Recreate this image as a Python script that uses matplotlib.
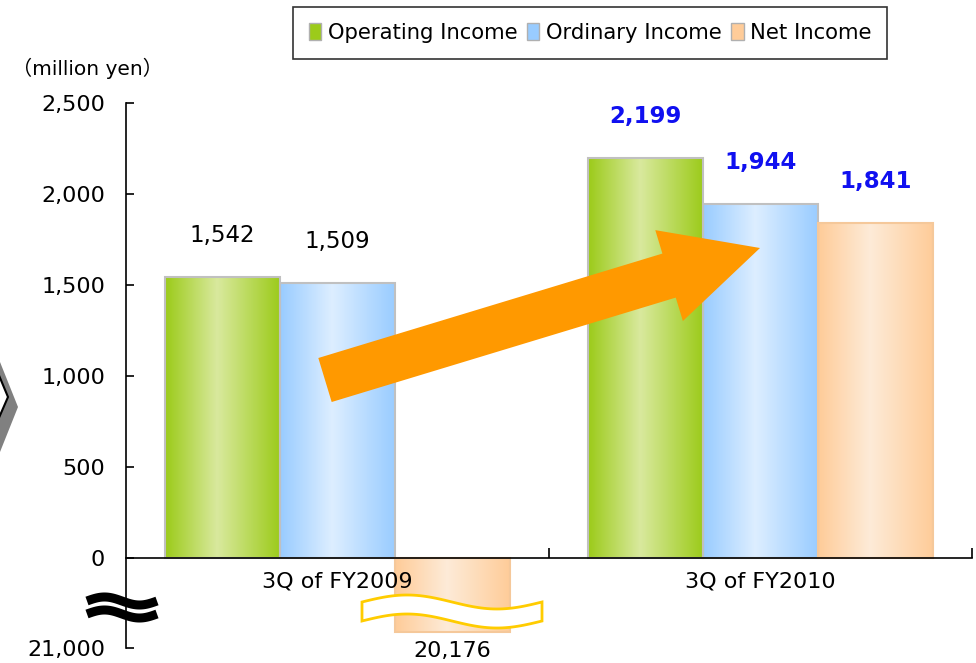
import numpy as np
import matplotlib.pyplot as plt
import matplotlib.patches as mpatches

# data
categories = ["3Q of FY2009", "3Q of FY2010"]
series = ["Operating Income", "Ordinary Income", "Net Income"]
operating = [1542, 2199]
ordinary = [1509, 1944]
net_income = [-20176, 1841]
values = [operating, ordinary, net_income]
label_colors = ["black", "#1010F0"]
label_weights = ["normal", "bold"]

yticks = [0, 500, 1000, 1500, 2000, 2500]
axis_min = -21000          # value shown at the bottom of the broken axis

# gradient colours (edge, centre) per series
grad_cols = {
    "Operating Income": ("#9CCB1A", "#D9E99E"),
    "Ordinary Income": ("#99CCFF", "#DDEEFF"),
    "Net Income": ("#FFCC99", "#FDEBD8"),
}

# broken axis: below zero the scale is squeezed
BREAK_POS = -494.5
LOW_SCALE = 0.1067


def to_axis(v):
    if v >= 0:
        return v
    return BREAK_POS + (v - axis_min) * LOW_SCALE


def hex2rgb(h):
    h = h.lstrip("#")
    return np.array([int(h[i:i + 2], 16) / 255 for i in (0, 2, 4)])


def gradient(edge, centre, n=100):
    t = np.linspace(0, 1, n)
    w = np.where(t < 0.45, t / 0.45, 1 - (t - 0.45) / 0.55)
    e, c = hex2rgb(edge), hex2rgb(centre)
    return (e[None, :] * (1 - w[:, None]) + c[None, :] * w[:, None])[None, :, :]


plt.rcParams["font.family"] = ["DejaVu Sans", "Noto Sans CJK JP"]

fig = plt.figure(figsize=(9.76, 6.63), dpi=100)
ax = fig.add_axes([126 / 976, 15 / 663, 846 / 976, 545 / 663])


def px(x, y):
    # pixel position (from top left) -> inches for dpi_scale_trans
    return (x / 100, (663 - y) / 100)


w = 0.272
for i, name in enumerate(series):
    xs = np.arange(len(categories)) + (i - 1) * w
    hs = [to_axis(v) for v in values[i]]
    edge, centre = grad_cols[name]
    ec = "#C0C0C0" if i < 2 else "#F5C89A"
    bars = ax.bar(xs, hs, w, facecolor="none", edgecolor=ec, linewidth=1.5, zorder=1.2)
    img = gradient(edge, centre)
    for j, b in enumerate(bars):
        x0 = b.get_x()
        y0, y1 = sorted([0, hs[j]])
        im = ax.imshow(img, extent=(x0, x0 + w, y0, y1), aspect="auto", zorder=1)
        im.set_clip_path(b)
        v = values[i][j]
        if v >= 0:
            ax.annotate(f"{v:,}", (xs[j], hs[j]), xytext=(0, 30), textcoords="offset points",
                        ha="center", va="center", fontsize=16.5, color=label_colors[j],
                        fontweight=label_weights[j])
        else:
            ax.annotate(f"{abs(v):,}", (xs[j], hs[j]), xytext=(0, -14), textcoords="offset points",
                        ha="center", va="center", fontsize=16, color="black")

ax.set_xlim(-0.5, 1.5)
ax.set_ylim(BREAK_POS, 2500)

for s in ["top", "right"]:
    ax.spines[s].set_visible(False)
ax.spines["bottom"].set_position(("data", 0))
ax.spines["left"].set_linewidth(1.2)
ax.spines["bottom"].set_linewidth(1.2)

ax.set_yticks(yticks + [BREAK_POS])
ax.set_yticklabels([f"{t:,}" for t in yticks] + [f"{abs(axis_min):,}"])
ax.tick_params(axis="y", direction="in", length=6, width=1.2, pad=15, labelsize=16)

ax.set_xticks([0.5, 1.5])
ax.set_xticklabels(["", ""])
ax.set_xticks([0, 1], minor=True)
ax.set_xticklabels(categories, minor=True)
ax.tick_params(axis="x", which="major", direction="in", length=7, width=1.2)
ax.tick_params(axis="x", which="minor", length=0, pad=10, labelsize=16)

# axis break mark
tt = np.linspace(0, 1, 60)
for yc in (601, 614):
    bx = 87 + 70 * tt
    by = yc - 4 * np.sin(2 * np.pi * tt)
    pts = [px(a, b) for a, b in zip(bx, by)]
    fig.add_artist(plt.Line2D([p[0] for p in pts], [p[1] for p in pts], color="black",
                              linewidth=6.5, transform=fig.dpi_scale_trans, solid_capstyle="butt"))

# yellow wavy ribbon over the negative bar
rx = 362 + 180 * tt
top = 602 - 7 * np.sin(2 * np.pi * tt)
ribbon = [px(a, b) for a, b in zip(rx, top)] + [px(a, b + 19) for a, b in zip(rx[::-1], top[::-1])]
fig.add_artist(mpatches.Polygon(ribbon, closed=True, facecolor="white", edgecolor="#FFCC00",
                                linewidth=2, transform=fig.dpi_scale_trans))

# big orange arrow
tx, ty = px(325, 380)
hx, hy = px(760, 248)
fig.add_artist(mpatches.FancyArrow(tx, ty, hx - tx, hy - ty, width=0.46, head_width=0.95,
                                   head_length=0.95, length_includes_head=True,
                                   color="#FF9900", linewidth=0, transform=fig.dpi_scale_trans))

# part of a grey chevron on the left edge
fig.add_artist(mpatches.Polygon([px(0, 362), px(18, 407), px(0, 452)], closed=True,
                                facecolor="#808080", edgecolor="none", transform=fig.dpi_scale_trans))
fig.add_artist(mpatches.Polygon([px(-2, 373), px(8, 397), px(-2, 420)], closed=True,
                                facecolor="white", edgecolor="black", linewidth=1.5,
                                transform=fig.dpi_scale_trans))

# unit
fig.text(12 / 976, 1 - 68 / 663, "（million yen）", fontsize=14.5, va="center", ha="left")

# legend
handles = [mpatches.Patch(facecolor=grad_cols[n][0], edgecolor="#B0B0B0") for n in series]
leg = fig.legend(handles, series, loc="center", bbox_to_anchor=(590 / 976, 1 - 33 / 663),
                 ncol=3, frameon=True, fancybox=False, edgecolor="black", fontsize=15.2,
                 handlelength=0.6, handleheight=0.9, handletextpad=0.3, columnspacing=0.45,
                 borderpad=0.75, borderaxespad=0)
leg.get_frame().set_linewidth(1.2)

fig.savefig("out.png", dpi=100)
